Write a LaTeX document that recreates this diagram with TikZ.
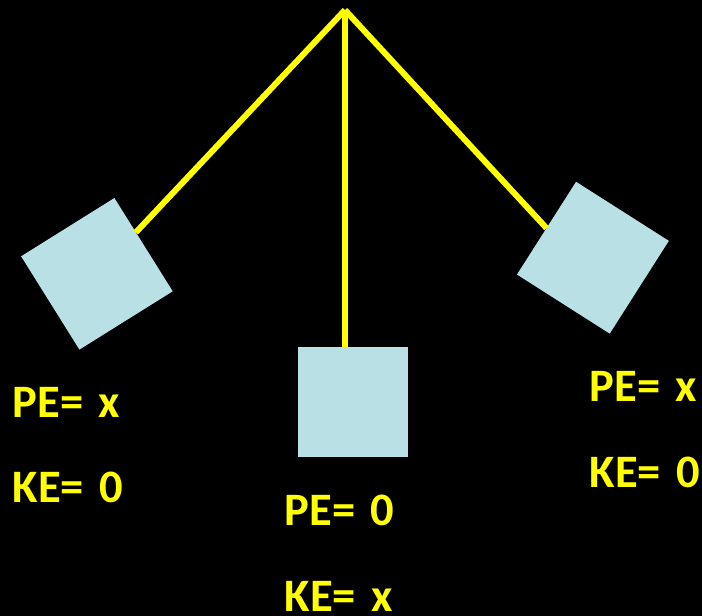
\documentclass[tikz,border=0pt]{standalone}
\usepackage{fontspec}
\setmainfont{Carlito}
\definecolor{rope}{RGB}{255,255,0}
\definecolor{block}{RGB}{185,224,228}
\tikzset{
  rope/.style={draw=rope, line width=6pt},
  blockbox/.style={fill=block, draw=none, minimum size=110pt, inner sep=0pt, outer sep=0pt},
  energy/.style={text=rope, font=\fontsize{46.5pt}{46.5pt}\selectfont\bfseries, anchor=base west, inner sep=0pt}
}
\begin{document}
\begin{tikzpicture}[x=1pt, y=-1pt]
  % background and fixed bounds
  \fill[black] (0,0) rectangle (702,616);
  \useasboundingbox (0,0) rectangle (702,616);

  % pivot and the three positions of the swinging block
  \coordinate (pivot) at (345,10);
  \node[blockbox, rotate=32]    (sqL) at (96.9,273.8) {};
  \node[blockbox]               (sqC) at (353,402) {};
  \node[blockbox, rotate=-32.5] (sqR) at (592.9,257.7) {};

  % strings
  \draw[rope] (pivot) -- (sqL);
  \draw[rope] (pivot) -- (pivot |- sqC.north);
  \draw[rope] (pivot) -- (sqR.west);

  % energy labels
  \node[energy] (peL) at (12.5,417) {PE=\,\,x};
  \node[energy] (keL) at (12.5,502) {KE=\,\,0};
  \node[energy] (peC) at (284.5,525) {PE=\,\,0};
  \node[energy] (keC) at (284.5,611) {KE=\,\,x};
  \node[energy] (peR) at (589.5,401) {PE=\,\,x};
  \node[energy] (keR) at (589.5,487) {KE=\,\,0};
\end{tikzpicture}
\end{document}
